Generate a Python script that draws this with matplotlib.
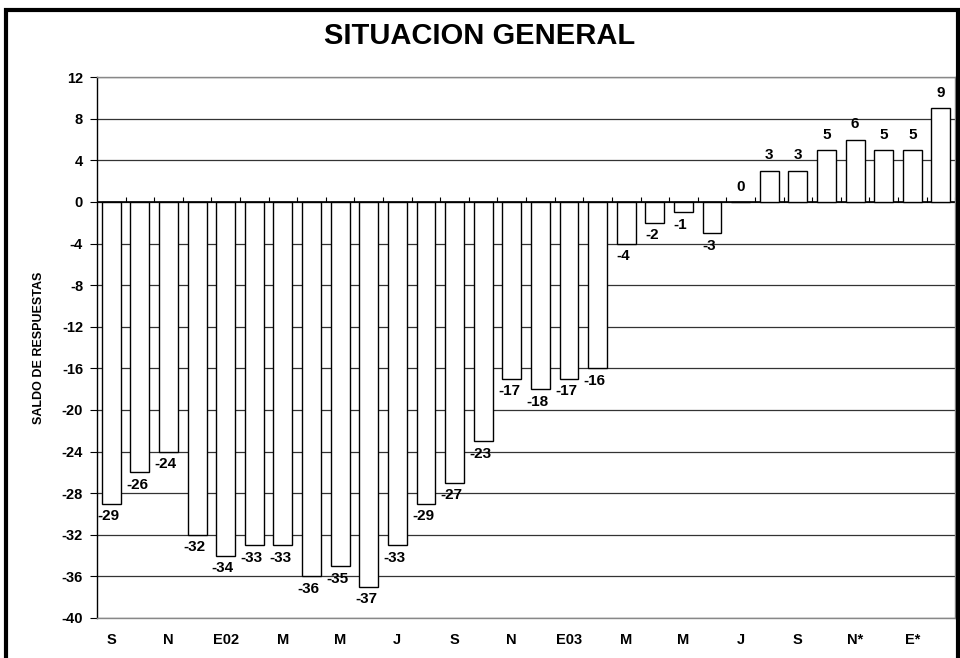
import matplotlib.pyplot as plt
import numpy as np
from matplotlib.patches import Rectangle

plt.rcParams['font.family'] = ['Liberation Sans', 'DejaVu Sans']
plt.rcParams['font.weight'] = 'bold'

# data
months = ["S", "O", "N", "D", "E02", "F", "M", "A", "M", "J", "J", "A", "S", "O", "N",
          "D", "E03", "F", "M", "A", "M", "J", "J", "A", "S", "O", "N*", "D*", "E*", "F*"]
saldo = [-29, -26, -24, -32, -34, -33, -33, -36, -35, -37, -33, -29, -27, -23, -17,
         -18, -17, -16, -4, -2, -1, -3, 0, 3, 3, 5, 6, 5, 5, 9]
yticks = list(range(-40, 13, 4))

fig = plt.figure(figsize=(9.6, 6.58), dpi=100)
ax = fig.add_axes([0.101, 0.0608, 0.894, 0.822])

x = np.arange(len(saldo))
ax.bar(x, saldo, width=0.66, color='white', edgecolor='black', linewidth=1, zorder=3)

for yy in yticks:
    ax.axhline(yy, color='#333333', lw=0.9, zorder=1)
ax.axhline(0, color='black', lw=1.2, zorder=2)
# small category ticks on zero line
ax.vlines(np.arange(len(saldo)) + 0.5, 0, 0.45, color='black', lw=0.8, zorder=2)

for xi, v in zip(x, saldo):
    if v >= 0:
        ax.annotate(str(v), (xi, v), xytext=(0, 6), textcoords='offset points',
                    ha='center', va='bottom', fontsize=11, fontweight='bold', zorder=4)
    else:
        ax.annotate(str(v), (xi, v), xytext=(-2, -4), textcoords='offset points',
                    ha='center', va='top', fontsize=11, fontweight='bold', zorder=4)

ax.set_xlim(-0.5, len(saldo) - 0.5)
ax.set_ylim(-40, 12)
ax.set_yticks(yticks)
ax.set_yticklabels([str(t) for t in yticks], fontsize=10.5, fontweight='bold')
ax.set_xticks(x[::2])
ax.set_xticklabels(months[::2], fontsize=10.5, fontweight='bold')
ax.tick_params(axis='x', length=0, pad=11)
ax.tick_params(axis='y', length=5, direction='out', color='black', pad=5)

for s in ['top', 'right', 'bottom']:
    ax.spines[s].set_color('#888888')
    ax.spines[s].set_linewidth(1)
ax.spines['left'].set_color('black')
ax.spines['left'].set_linewidth(1)

ax.set_ylabel("SALDO DE RESPUESTAS", fontsize=9, fontweight='bold')
ax.yaxis.set_label_coords(-0.06, 0.5)

fig.text(0.5, 0.945, "SITUACION GENERAL", ha='center', va='center',
         fontsize=21, fontweight='bold')

fig.patches.append(Rectangle((6 / 960, -0.05), 952 / 960, 1 - 10 / 658 + 0.05,
                             transform=fig.transFigure, fill=False,
                             edgecolor='black', linewidth=3, zorder=10))

fig.savefig('out.png', dpi=100)
